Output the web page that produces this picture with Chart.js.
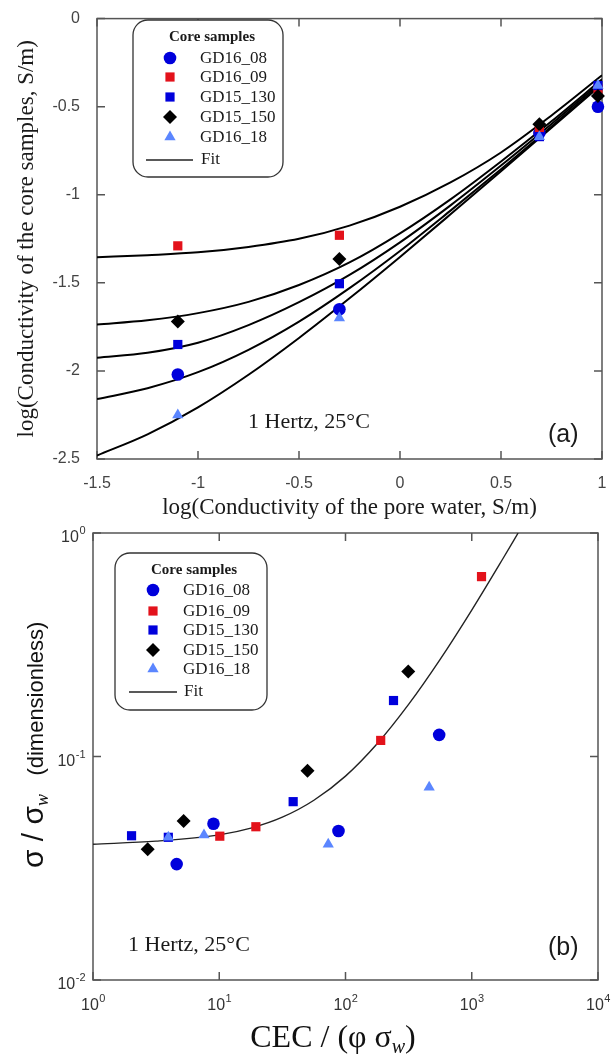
<!DOCTYPE html>
<html>
<head>
<meta charset="utf-8">
<script src="https://cdn.jsdelivr.net/npm/chart.js@4.4.0/dist/chart.umd.min.js"></script>
<style>
  body { margin: 0; background: #fff; }
  #wrap { position: relative; width: 614px; height: 1055px; }
  #wrap canvas { position: absolute; left: 0; }
</style>
</head>
<body>
<div id="wrap">
  <canvas id="chartA" width="614" height="525" style="top:0"></canvas>
  <canvas id="chartB" width="614" height="540" style="top:515px"></canvas>
</div>
<script>
/* ---- panel (a): log conductivity of pore water vs core samples ---- */
const SAMPLES = ['GD16_08', 'GD16_09', 'GD15_130', 'GD15_150', 'GD16_18'];
const A_X = [-1.1, -0.3, 0.69, 0.98];
const A_GD16_08 = [-2.02, -1.65, -0.65, -0.50];
const A_GD16_09 = [-1.29, -1.23, -0.63, -0.40];
const A_GD15_130 = [-1.85, -1.505, -0.67, -0.38];
const A_GD15_150 = [-1.72, -1.365, -0.60, -0.44];
const A_GD16_18 = [-2.25, -1.70, -0.67, -0.38];

// fit curves
const A_FIT_X = [-1.5, -1.25, -1, -0.75, -0.5, -0.25, 0, 0.25, 0.5, 0.75, 1];
const A_FIT_GD16_09 = [-1.355, -1.343, -1.327, -1.296, -1.250, -1.175, -1.068, -0.93, -0.76, -0.55, -0.322];
const A_FIT_GD15_150 = [-1.737, -1.713, -1.672, -1.608, -1.512, -1.384, -1.219, -1.026, -0.811, -0.583, -0.345];
const A_FIT_GD15_130 = [-1.925, -1.897, -1.84, -1.74, -1.61, -1.455, -1.27, -1.06, -0.834, -0.598, -0.356];
const A_FIT_GD16_08 = [-2.16, -2.098, -2.007, -1.88, -1.72, -1.53, -1.319, -1.09, -0.855, -0.613, -0.366];
const A_FIT_GD16_18 = [-2.48, -2.36, -2.207, -2.022, -1.813, -1.588, -1.353, -1.111, -0.866, -0.619, -0.372];

const A_XTICKS = [-1.5, -1, -0.5, 0, 0.5, 1];
const A_YTICKS = [-2.5, -2, -1.5, -1, -0.5, 0];

/* ---- panel (b): sigma / sigma_w vs CEC / (phi sigma_w) ---- */
const B_GD16_08_X = [4.6, 9.0, 88, 552];
const B_GD16_08_Y = [0.033, 0.050, 0.0464, 0.125];
const B_GD16_09_X = [10.1, 19.5, 190, 1195];
const B_GD16_09_Y = [0.044, 0.0485, 0.118, 0.638];
const B_GD15_130_X = [2.02, 3.95, 38.5, 240];
const B_GD15_130_Y = [0.0442, 0.0435, 0.0628, 0.178];
const B_GD15_150_X = [2.71, 5.22, 50, 314];
const B_GD15_150_Y = [0.0385, 0.0514, 0.0864, 0.24];
const B_GD16_18_X = [3.95, 7.57, 73, 460];
const B_GD16_18_Y = [0.0435, 0.0445, 0.0405, 0.0728];

const B_FIT_X = [1, 3.16, 10, 17.8, 31.6, 56.2, 100, 178, 316, 562, 1000, 1778, 2330];
const B_FIT_Y = [0.0405, 0.0418, 0.0446, 0.0478, 0.0535, 0.0637, 0.0817, 0.114, 0.171, 0.272, 0.452, 0.773, 1.0];

const B_XTICKS = [1, 10, 100, 1000, 10000];
const B_YTICKS = [0.01, 0.1, 1];

const SERIF = '"Liberation Serif", "Times New Roman", serif';
const SANS = '"Liberation Sans", Arial, sans-serif';
Chart.defaults.font.family = SANS;

const MARK = {
    GD16_08: { pointStyle: 'circle', color: '#0000dc', r: 6.3, order: 6 },
    GD16_09: { pointStyle: 'rect', color: '#e3121b', r: 6.5, order: 5 },
    GD15_130: { pointStyle: 'rect', color: '#0000dc', r: 6.5, order: 4 },
    GD15_150: { pointStyle: 'rectRot', color: '#000000', r: 7, order: 3 },
    GD16_18: { pointStyle: 'triangle', color: '#5b86ff', r: 6.5, order: 2 }
};

function pointSet(name, xs, ys) {
    const m = MARK[name];
    return {
        label: name,
        data: xs.map((x, i) => ({ x, y: ys[i] })),
        pointStyle: m.pointStyle,
        pointRadius: m.r,
        pointBackgroundColor: m.color,
        pointBorderColor: m.color,
        pointBorderWidth: 0,
        showLine: false,
        clip: false,
        order: m.order
    };
}

function fitSet(xs, ys, width, color) {
    return {
        label: 'Fit',
        data: xs.map((x, i) => ({ x, y: ys[i] })),
        showLine: true,
        pointRadius: 0,
        borderColor: color,
        borderWidth: width,
        cubicInterpolationMode: 'monotone',
        fill: false,
        order: 10
    };
}

// frame around the plot + inward ticks on all four sides
const frameTicks = {
    id: 'frameTicks',
    beforeDatasetsDraw(chart, args, o) {
        const { ctx, chartArea: a, scales: { x, y } } = chart;
        ctx.save();
        ctx.strokeStyle = '#555';
        ctx.lineWidth = 1.5;
        ctx.strokeRect(a.left, a.top, a.right - a.left, a.bottom - a.top);
        ctx.beginPath();
        o.xTicks.forEach(v => {
            const px = x.getPixelForValue(v);
            ctx.moveTo(px, a.bottom); ctx.lineTo(px, a.bottom - 8);
            ctx.moveTo(px, a.top); ctx.lineTo(px, a.top + 8);
        });
        o.yTicks.forEach(v => {
            const py = y.getPixelForValue(v);
            ctx.moveTo(a.left, py); ctx.lineTo(a.left + 8, py);
            ctx.moveTo(a.right, py); ctx.lineTo(a.right - 8, py);
        });
        ctx.stroke();
        ctx.restore();
    }
};

// rounded legend box like the original
const boxLegend = {
    id: 'boxLegend',
    afterDatasetsDraw(chart, args, o) {
        const ctx = chart.ctx;
        ctx.save();
        ctx.beginPath();
        ctx.roundRect(o.x, o.y, o.w, o.h, 15);
        ctx.fillStyle = '#fff';
        ctx.fill();
        ctx.strokeStyle = '#333';
        ctx.lineWidth = 1.3;
        ctx.stroke();
        ctx.fillStyle = '#1a1a1a';
        ctx.textBaseline = 'middle';
        ctx.textAlign = 'center';
        ctx.font = 'bold 15px ' + SERIF;
        ctx.fillText('Core samples', o.titleX, o.titleY);
        ctx.textAlign = 'left';
        ctx.font = '17px ' + SERIF;
        SAMPLES.forEach((name, i) => {
            const m = MARK[name];
            const yy = o.rows[i];
            ctx.fillStyle = m.color;
            Chart.helpers.drawPoint(ctx, { pointStyle: m.pointStyle, radius: m.r, rotation: 0, borderWidth: 0 }, o.markX, yy);
            ctx.fillStyle = '#1a1a1a';
            ctx.fillText(name, o.textX, yy + 1);
        });
        ctx.strokeStyle = '#222';
        ctx.lineWidth = 1.5;
        ctx.beginPath();
        ctx.moveTo(o.fitX0, o.fitY);
        ctx.lineTo(o.fitX1, o.fitY);
        ctx.stroke();
        ctx.fillText('Fit', o.textX + 1, o.fitY);
        ctx.restore();
    }
};

// free text on the plot
const notes = {
    id: 'notes',
    afterDraw(chart, args, o) {
        const ctx = chart.ctx;
        ctx.save();
        ctx.fillStyle = '#1a1a1a';
        ctx.textBaseline = 'middle';
        ctx.textAlign = 'left';
        o.items.forEach(t => {
            ctx.font = t.font;
            ctx.fillText(t.text, t.x, t.y);
        });
        ctx.restore();
    }
};

// 10^n labels for the log axes of panel (b), plus the axis titles
const powerLabels = {
    id: 'powerLabels',
    afterDraw(chart) {
        const { ctx, chartArea: a, scales: { x, y } } = chart;
        ctx.save();
        ctx.fillStyle = '#333';
        ctx.textAlign = 'left';
        ctx.textBaseline = 'alphabetic';
        const put = (v, px, py, align) => {
            const exp = String(Math.round(Math.log10(v)));
            ctx.font = '16px ' + SANS;
            const wb = ctx.measureText('10').width;
            ctx.font = '11px ' + SANS;
            const we = ctx.measureText(exp).width;
            const x0 = align === 'center' ? px - (wb + we) / 2 : px - (wb + we);
            ctx.font = '16px ' + SANS;
            ctx.fillText('10', x0, py);
            ctx.font = '11px ' + SANS;
            ctx.fillText(exp, x0 + wb + 0.5, py - 8);
        };
        B_XTICKS.forEach(v => put(v, x.getPixelForValue(v), a.bottom + 30, 'center'));
        B_YTICKS.forEach(v => put(v, a.left - 8, y.getPixelForValue(v) + 9, 'right'));

        // x title: CEC / (phi sigma_w)
        ctx.fillStyle = '#111';
        const parts = [
            { t: 'CEC / (\u03c6 \u03c3', f: '32px ' + SERIF, dy: 0 },
            { t: 'w', f: 'italic 20px ' + SERIF, dy: 6 },
            { t: ')', f: '32px ' + SERIF, dy: 0 }
        ];
        let total = 0;
        parts.forEach(p => { ctx.font = p.f; p.w = ctx.measureText(p.t).width; total += p.w; });
        let cx = 333 - total / 2;
        parts.forEach(p => { ctx.font = p.f; ctx.fillText(p.t, cx, 532 + p.dy); cx += p.w; });

        // y title: sigma / sigma_w (dimensionless)
        ctx.translate(43, 353);
        ctx.rotate(-Math.PI / 2);
        const yparts = [
            { t: '\u03c3 / \u03c3', f: '30px ' + SANS, dy: 0 },
            { t: 'w', f: 'italic 18px ' + SERIF, dy: 5 },
            { t: '   (dimensionless)', f: '22px ' + SANS, dy: 0 }
        ];
        let cy = 0;
        yparts.forEach(p => { ctx.font = p.f; ctx.fillText(p.t, cy, p.dy); cy += ctx.measureText(p.t).width; });
        ctx.restore();
    }
};

/* ---- chart (a) ---- */
const fitsA = [
    fitSet(A_FIT_X, A_FIT_GD16_09, 2, '#000'),
    fitSet(A_FIT_X, A_FIT_GD15_150, 2, '#000'),
    fitSet(A_FIT_X, A_FIT_GD15_130, 2, '#000'),
    fitSet(A_FIT_X, A_FIT_GD16_08, 2, '#000'),
    fitSet(A_FIT_X, A_FIT_GD16_18, 2, '#000')
];
const pointsA = [
    pointSet('GD16_08', A_X, A_GD16_08),
    pointSet('GD16_09', A_X, A_GD16_09),
    pointSet('GD15_130', A_X, A_GD15_130),
    pointSet('GD15_150', A_X, A_GD15_150),
    pointSet('GD16_18', A_X, A_GD16_18)
];

new Chart(document.getElementById('chartA'), {
    type: 'scatter',
    data: { datasets: [...fitsA, ...pointsA] },
    options: {
        responsive: false,
        animation: false,
        layout: { padding: { top: 14, right: 12, left: 0, bottom: 0 } },
        plugins: {
            legend: { display: false },
            tooltip: { enabled: false },
            frameTicks: { xTicks: A_XTICKS, yTicks: A_YTICKS },
            boxLegend: {
                x: 133, y: 20, w: 150, h: 157, titleX: 212, titleY: 37,
                markX: 170, textX: 200, rows: [58, 77, 97, 117, 137],
                fitX0: 146, fitX1: 193, fitY: 160
            },
            notes: {
                items: [
                    { text: '1 Hertz, 25\u00b0C', x: 248, y: 422, font: '22px ' + SERIF },
                    { text: '(a)', x: 548, y: 435, font: '25px ' + SANS }
                ]
            }
        },
        scales: {
            x: {
                type: 'linear', min: -1.5, max: 1,
                grid: { display: false }, border: { display: false },
                ticks: { stepSize: 0.5, padding: 7, color: '#444', font: { size: 16 }, maxRotation: 0, autoSkip: false,
                    callback: v => String(Math.round(v * 10) / 10) },
                title: { display: true, text: 'log(Conductivity of the pore water, S/m)', color: '#1a1a1a',
                    font: { family: SERIF, size: 23 }, padding: { top: 0, bottom: 3 } },
                afterFit: s => { s.height = 66; }
            },
            y: {
                type: 'linear', min: -2.5, max: 0,
                grid: { display: false }, border: { display: false },
                ticks: { stepSize: 0.5, padding: 9, color: '#444', font: { size: 16 },
                    callback: v => String(Math.round(v * 10) / 10) },
                title: { display: true, text: 'log(Conductivity of the core samples, S/m)', color: '#1a1a1a',
                    font: { family: SERIF, size: 23 }, padding: { top: 13, bottom: 0 } },
                afterFit: s => { s.width = 97; }
            }
        }
    },
    plugins: [frameTicks, boxLegend, notes]
});

/* ---- chart (b) ---- */
const pointsB = [
    pointSet('GD16_08', B_GD16_08_X, B_GD16_08_Y),
    pointSet('GD16_09', B_GD16_09_X, B_GD16_09_Y),
    pointSet('GD15_130', B_GD15_130_X, B_GD15_130_Y),
    pointSet('GD15_150', B_GD15_150_X, B_GD15_150_Y),
    pointSet('GD16_18', B_GD16_18_X, B_GD16_18_Y)
];

new Chart(document.getElementById('chartB'), {
    type: 'scatter',
    data: { datasets: [fitSet(B_FIT_X, B_FIT_Y, 1.4, '#222'), ...pointsB] },
    options: {
        responsive: false,
        animation: false,
        layout: { padding: { top: 18, right: 16, left: 0, bottom: 0 } },
        plugins: {
            legend: { display: false },
            tooltip: { enabled: false },
            frameTicks: { xTicks: B_XTICKS, yTicks: B_YTICKS },
            boxLegend: {
                x: 115, y: 38, w: 152, h: 157, titleX: 194, titleY: 55,
                markX: 153, textX: 183, rows: [75, 96, 115, 135, 154],
                fitX0: 129, fitX1: 177, fitY: 177
            },
            notes: {
                items: [
                    { text: '1 Hertz, 25\u00b0C', x: 128, y: 430, font: '22px ' + SERIF },
                    { text: '(b)', x: 548, y: 433, font: '25px ' + SANS }
                ]
            }
        },
        scales: {
            x: {
                type: 'logarithmic', min: 1, max: 10000,
                grid: { display: false }, border: { display: false },
                ticks: { display: false },
                afterFit: s => { s.height = 75; }
            },
            y: {
                type: 'logarithmic', min: 0.01, max: 1,
                grid: { display: false }, border: { display: false },
                ticks: { display: false },
                afterFit: s => { s.width = 93; }
            }
        }
    },
    plugins: [frameTicks, boxLegend, notes, powerLabels]
});
</script>
</body>
</html>
